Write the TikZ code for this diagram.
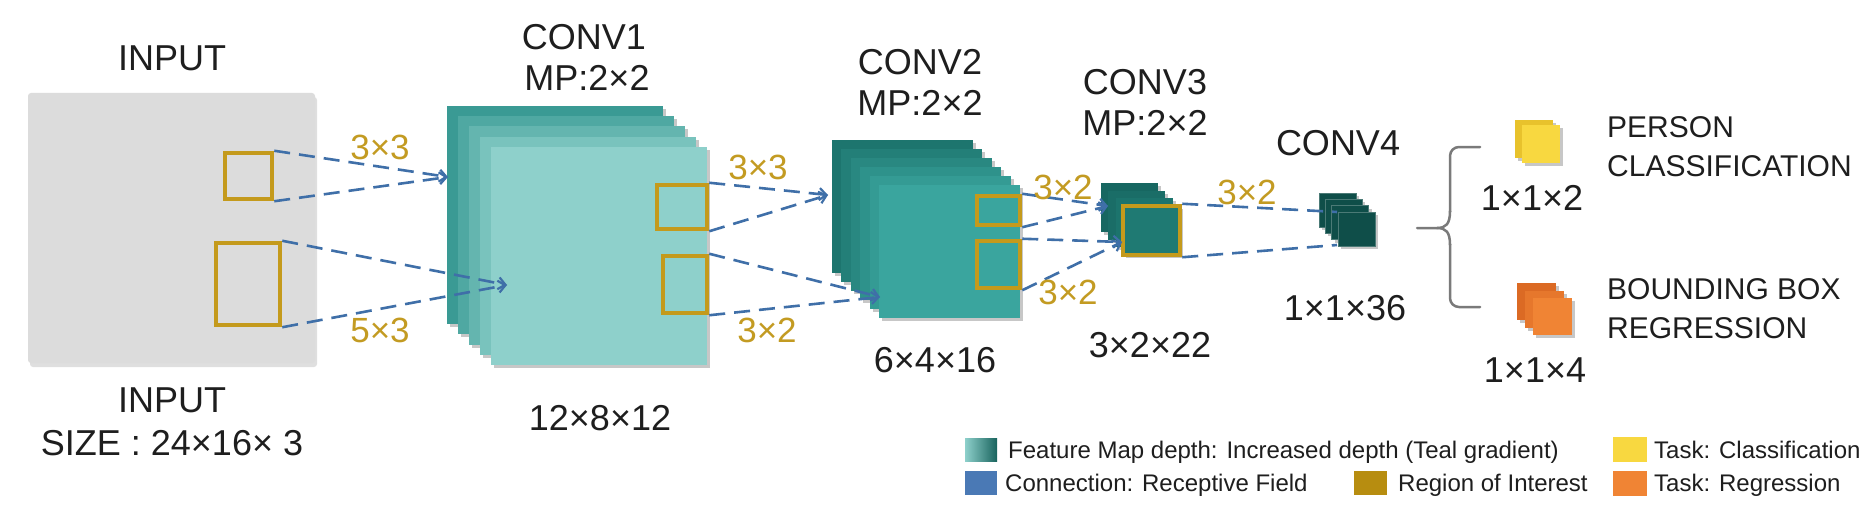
\documentclass[tikz,border=0pt]{standalone}
\usepackage{fontspec}
\setmainfont{Liberation Sans}
\usetikzlibrary{arrows.meta,shadows}
\definecolor{txt}{HTML}{1E1E1E}
\definecolor{gold}{HTML}{C49A1C}
\definecolor{goldtxt}{HTML}{C39B22}
\definecolor{link}{HTML}{3F6FA8}
\definecolor{inbg}{HTML}{DCDCDC}
\definecolor{tA1}{HTML}{3A9A94}
\definecolor{tA2}{HTML}{8ED0CB}
\definecolor{tB1}{HTML}{1D756E}
\definecolor{tB2}{HTML}{3AA59E}
\definecolor{tC1}{HTML}{176761}
\definecolor{tC2}{HTML}{1F7A73}
\definecolor{tD}{HTML}{0F4E49}
\definecolor{ylw1}{HTML}{E8C22C}
\definecolor{ylw2}{HTML}{F8D840}
\definecolor{org1}{HTML}{DB6A24}
\definecolor{org2}{HTML}{F08434}
\definecolor{legblue}{HTML}{4A79B5}
\definecolor{legolive}{HTML}{B78D10}
\definecolor{braceg}{HTML}{7A7A7A}
\tikzset{
  lbl/.style={font=\fontsize{36}{40}\selectfont, text=txt, inner sep=0pt},
  klbl/.style={font=\fontsize{35}{40}\selectfont, text=goldtxt, inner sep=0pt},
  task/.style={font=\fontsize{30}{36}\selectfont, text=txt, inner sep=0pt, anchor=base west},
  leg/.style={font=\fontsize{24}{28}\selectfont, text=txt, inner sep=0pt, anchor=base west},
  roi/.style={draw=gold, line width=4.5pt, inner sep=0pt},
  rf/.style={draw=link, line width=2.6pt, dash pattern=on 16pt off 9pt},
  rfa/.style={rf, -{Straight Barb[length=7pt,width=12pt,line width=2.2pt]}},
  layershadow/.style={drop shadow={shadow xshift=3pt, shadow yshift=-3pt, opacity=0.22, fill=black}},
}
\newcommand{\cnnstack}[9]{%
  \foreach \i in {0,...,#5}{%
    \pgfmathtruncatemacro{\pct}{100*\i/#5}%
    \path[fill=#9!\pct!#8, layershadow] ({#1+\i*#6},{#2+\i*#7}) rectangle ++(#3,#4);
  }%
}
\begin{document}
\begin{tikzpicture}[x=1pt,y=-1pt]
\useasboundingbox (0,0) rectangle (1873,508);
\fill[white] (0,0) rectangle (1873,508);

% ---- input image
\node[fill=inbg, minimum width=287pt, minimum height=270pt, inner sep=0pt, rounded corners=3pt,
      drop shadow={shadow xshift=2pt, shadow yshift=-4pt, opacity=0.25}] (inimg) at (171.5,228) {};
\node[roi, minimum width=47pt, minimum height=46pt] (in1) at (248.5,176) {};
\node[roi, minimum width=64pt, minimum height=82pt] (in2) at (248,284) {};

% ---- conv stacks
\cnnstack{447}{106}{216}{218}{4}{11}{10.25}{tA1}{tA2}
\cnnstack{832}{140}{141}{133}{5}{9.4}{9}{tB1}{tB2}
\cnnstack{1101}{183}{57}{49}{3}{7.3}{7.7}{tC1}{tC2}
\foreach \i in {0,...,3}{%
  \path[fill=tD, draw=tD!75!white, line width=0.7pt, layershadow] ({1319+\i*6.3},{193+\i*6.3}) rectangle ++(37,34);
}
\cnnstack{1515}{120}{38}{38}{1}{7}{5}{ylw1}{ylw2}
\cnnstack{1517}{283}{39}{37}{2}{8}{7.5}{org1}{org2}

% ---- regions of interest
\node[roi, minimum width=50pt, minimum height=44pt] (c1a) at (682,207) {};
\node[roi, minimum width=44pt, minimum height=57pt] (c1b) at (685,284.5) {};
\node[roi, minimum width=43pt, minimum height=29pt] (c2a) at (998.5,210.5) {};
\node[roi, minimum width=43pt, minimum height=47pt] (c2b) at (998.5,264.5) {};
\node[roi, minimum width=57pt, minimum height=49pt] (c3) at (1151.5,230.5) {};

% ---- connector targets
\coordinate (a1) at (448,177);
\coordinate (a2) at (507,285);
\coordinate (b1) at (828,195);
\coordinate (b2) at (880,297);
\coordinate (cc1) at (1108,206);
\coordinate (cc2) at (1122,242);
\coordinate (d1) at (1337,212);
\coordinate (d2) at (1337,245);

\draw[rfa] (in1.north east) -- (a1);
\draw[rfa] (in1.south east) -- (a1);
\draw[rfa] (in2.north east) -- (a2);
\draw[rfa] (in2.south east) -- (a2);
\draw[rfa] (c1a.north east) -- (b1);
\draw[rfa] (c1a.south east) -- (b1);
\draw[rfa] (c1b.north east) -- (b2);
\draw[rfa] (c1b.south east) -- (b2);
\draw[rfa] (c2a.north east) -- (cc1);
\draw[rfa] (c2a.south east) -- (cc1);
\draw[rfa] (c2b.north east) -- (cc2);
\draw[rfa] (c2b.south east) -- (cc2);
\draw[rf] (c3.north east) -- (d1);
\draw[rf] (c3.south east) -- (d2);

% ---- kernel labels
\node[klbl] (k1) at (380,147) {3×3};
\node[klbl] (k2) at (380,330) {5×3};
\node[klbl] (k3) at (758,167) {3×3};
\node[klbl] (k4) at (767,330) {3×2};
\node[klbl] (k5) at (1063,187) {3×2};
\node[klbl] (k6) at (1068,292) {3×2};
\node[klbl] (k7) at (1247,192) {3×2};

% ---- titles
\node[lbl] (t0) at (172,58) {INPUT};
\node[lbl] (t1) at (584,37) {CONV1};
\node[lbl] (t1b) at (587,78) {MP:2×2};
\node[lbl] (t2) at (920,62) {CONV2};
\node[lbl] (t2b) at (920,103) {MP:2×2};
\node[lbl] (t3) at (1145,82) {CONV3};
\node[lbl] (t3b) at (1145,123) {MP:2×2};
\node[lbl] (t4) at (1338,143) {CONV4};

% ---- sizes
\node[lbl] (s0a) at (172,400) {INPUT};
\node[lbl] (s0b) at (172,443) {SIZE : 24×16× 3};
\node[lbl] (s1) at (600,418) {12×8×12};
\node[lbl] (s2) at (935,360) {6×4×16};
\node[lbl] (s3) at (1150,345) {3×2×22};
\node[lbl] (s4) at (1345,308) {1×1×36};
\node[lbl] (s5) at (1532,198) {1×1×2};
\node[lbl] (s6) at (1535,370) {1×1×4};

% ---- tasks
\node[task] (p1) at (1607,138) {PERSON};
\node[task] (p2) at (1607,176) {CLASSIFICATION};
\node[task] (r1) at (1607,299) {BOUNDING BOX};
\node[task] (r2) at (1607,338) {REGRESSION};

% ---- brace
\coordinate (br) at (1417,228);
\draw[braceg, line width=2.5pt, line cap=round, rounded corners=9pt]
  (1480,147) -- (1450,147) -- (1450,212);
\draw[braceg, line width=2.5pt, line cap=round]
  (1450,211) .. controls (1450,224) and (1446,228) .. (1437,228) -- (br);
\draw[braceg, line width=2.5pt, line cap=round]
  (1437,228) .. controls (1446,228) and (1450,232) .. (1450,245);
\draw[braceg, line width=2.5pt, line cap=round, rounded corners=9pt]
  (1450,244) -- (1450,307) -- (1480,307);

% ---- legend
\shade[left color=tA2, right color=tB1!85!black] (965,438) rectangle (997,461);
\node[leg] (l1) at (1008,458) {Feature Map depth: Increased depth (Teal gradient)};
\fill[ylw2] (1613,437) rectangle (1647,462);
\node[leg] (l2) at (1654,458) {Task: Classification};
\fill[legblue] (965,471) rectangle (997,495);
\node[leg] (l3) at (1005,491) {Connection: Receptive Field};
\fill[legolive] (1354,471) rectangle (1387,495);
\node[leg] (l4) at (1398,491) {Region of Interest};
\fill[org2] (1613,471) rectangle (1647,496);
\node[leg] (l5) at (1654,491) {Task: Regression};
\end{tikzpicture}
\end{document}
